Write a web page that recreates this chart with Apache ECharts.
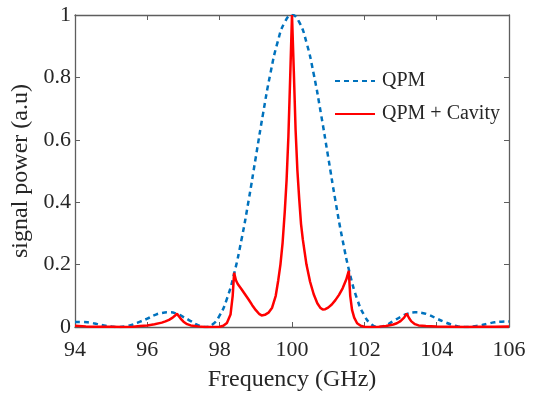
<!DOCTYPE html>
<html>
<head>
<meta charset="utf-8">
<script src="https://cdn.jsdelivr.net/npm/echarts@6/dist/echarts.min.js"></script>
<style>
  html, body { margin: 0; padding: 0; background: #fff; }
  #chart { width: 539px; height: 397px; }
</style>
</head>
<body>
<div id="chart"></div>
<script>
// QPM only (dashed blue), every 0.2 GHz
const qpmFreq = [
  94.0, 94.2, 94.4, 94.6, 94.8, 95.0, 95.2, 95.4, 95.6, 95.8,
  96.0, 96.2, 96.4, 96.6, 96.8, 97.0, 97.2, 97.4, 97.6, 97.8,
  98.0, 98.2, 98.4, 98.6, 98.8, 99.0, 99.2, 99.4, 99.6, 99.8,
  100.0, 100.2, 100.4, 100.6, 100.8, 101.0, 101.2, 101.4, 101.6, 101.8,
  102.0, 102.2, 102.4, 102.6, 102.8, 103.0, 103.2, 103.4, 103.6, 103.8,
  104.0, 104.2, 104.4, 104.6, 104.8, 105.0, 105.2, 105.4, 105.6, 105.8, 106.0
];
const qpmPower = [
  0.016, 0.016, 0.014, 0.010, 0.005, 0.002, 0.0, 0.002, 0.008, 0.017,
  0.027, 0.038, 0.045, 0.047, 0.043, 0.032, 0.019, 0.006, 0.0, 0.008,
  0.037, 0.090, 0.171, 0.278, 0.405, 0.545, 0.684, 0.811, 0.912, 0.977,
  1.0, 0.977, 0.912, 0.811, 0.684, 0.545, 0.405, 0.278, 0.171, 0.090,
  0.037, 0.008, 0.0, 0.006, 0.019, 0.032, 0.043, 0.047, 0.045, 0.038,
  0.027, 0.017, 0.008, 0.002, 0.0, 0.002, 0.005, 0.010, 0.015, 0.017, 0.018
];

// QPM + cavity (solid red), denser around the sharp peaks
const cavFreq = [
  94.0, 94.3, 94.6, 95.0, 95.3, 95.6, 95.8, 96.0, 96.2, 96.4,
  96.5, 96.6, 96.7, 96.76, 96.82, 96.86, 96.92, 97.0, 97.1, 97.2,
  97.4, 97.6, 97.8, 98.0, 98.1, 98.2, 98.3, 98.36, 98.4, 98.45,
  98.5, 98.6, 98.7, 98.8, 98.9, 99.0, 99.1, 99.16, 99.25, 99.35,
  99.45, 99.55, 99.62, 99.68, 99.74, 99.8, 99.85, 99.9, 99.95, 100.0,
  100.05, 100.1, 100.15, 100.2, 100.25, 100.3, 100.35, 100.4, 100.5, 100.6,
  100.7, 100.78, 100.85, 100.92, 101.0, 101.1, 101.2, 101.3, 101.4, 101.5,
  101.57, 101.61, 101.66, 101.72, 101.8, 101.9, 102.0, 102.2, 102.4, 102.6,
  102.8, 102.9, 103.0, 103.1, 103.17, 103.24, 103.3, 103.4, 103.5, 103.7,
  104.0, 104.4, 104.8, 105.2, 105.6, 106.0
];
const cavPower = [
  0.004, 0.002, 0.001, 0.0005, 0.0, 0.001, 0.003, 0.005, 0.009, 0.014,
  0.018, 0.023, 0.030, 0.036, 0.043, 0.036, 0.027, 0.017, 0.009, 0.005,
  0.002, 0.0, 0.0, 0.001, 0.004, 0.013, 0.040, 0.100, 0.174, 0.150,
  0.138, 0.122, 0.105, 0.088, 0.070, 0.054, 0.041, 0.037, 0.039, 0.046,
  0.062, 0.100, 0.150, 0.200, 0.270, 0.370, 0.470, 0.610, 0.800, 1.0,
  0.820, 0.630, 0.500, 0.410, 0.330, 0.280, 0.240, 0.200, 0.145, 0.105,
  0.076, 0.062, 0.056, 0.057, 0.062, 0.072, 0.086, 0.103, 0.124, 0.152,
  0.180, 0.100, 0.055, 0.030, 0.012, 0.004, 0.001, 0.0, 0.001, 0.003,
  0.008, 0.012, 0.019, 0.030, 0.043, 0.028, 0.018, 0.009, 0.005, 0.003,
  0.002, 0.001, 0.0, 0.0005, 0.001, 0.002
];

const xTicks = {min: 94, max: 106, step: 2};
const yTicks = {min: 0, max: 1, step: 0.2};

const FONT = 'Liberation Serif';
const TXT = '#262626';
const AXC = '#5e5e5e';

const chart = echarts.init(document.getElementById('chart'), null, {renderer: 'canvas'});

const frameAxis = (extra) => Object.assign({
  type: 'value',
  axisLine: {show: true, onZero: false, lineStyle: {color: AXC, width: 1.3}},
  axisTick: {show: true, inside: true, length: 5, lineStyle: {color: AXC, width: 1}},
  splitLine: {show: false},
}, extra);

chart.setOption({
  animation: false,
  backgroundColor: '#fff',
  grid: {left: 75, right: 30, top: 15, bottom: 66},
  legend: {
    orient: 'vertical',
    left: 334,
    top: 71,
    padding: 0,
    itemWidth: 40,
    itemHeight: 14,
    itemGap: 13,
    itemStyle: {opacity: 0},
    data: ['QPM', 'QPM + Cavity'],
    textStyle: {fontFamily: FONT, fontSize: 20, color: TXT, padding: [0, 0, 0, 2]},
  },
  xAxis: [
    frameAxis({
      position: 'bottom',
      min: xTicks.min, max: xTicks.max, interval: xTicks.step,
      name: 'Frequency (GHz)',
      nameLocation: 'middle',
      nameGap: 41,
      nameTextStyle: {fontFamily: FONT, fontSize: 24, color: TXT},
      axisLabel: {margin: 12, fontFamily: FONT, fontSize: 22, color: TXT},
    }),
    frameAxis({
      position: 'top',
      min: xTicks.min, max: xTicks.max, interval: xTicks.step,
      axisLabel: {show: false},
    }),
  ],
  yAxis: [
    frameAxis({
      position: 'left',
      min: yTicks.min, max: yTicks.max, interval: yTicks.step,
      name: 'signal power (a.u)',
      nameLocation: 'middle',
      nameGap: 35,
      nameTextStyle: {fontFamily: FONT, fontSize: 24, color: TXT},
      axisLabel: {margin: 4, fontFamily: FONT, fontSize: 22, color: TXT},
    }),
    frameAxis({
      position: 'right',
      min: yTicks.min, max: yTicks.max, interval: yTicks.step,
      axisLabel: {show: false},
    }),
  ],
  series: [
    {
      name: 'QPM',
      type: 'line',
      xAxisIndex: 0,
      yAxisIndex: 0,
      data: qpmFreq.map((f, i) => [f, qpmPower[i]]),
      symbol: 'none',
      smooth: true,
      lineStyle: {color: '#0072bd', width: 2.5, type: [5, 4]},
      itemStyle: {color: '#0072bd'},
      z: 2,
    },
    {
      name: 'QPM + Cavity',
      type: 'line',
      xAxisIndex: 0,
      yAxisIndex: 0,
      data: cavFreq.map((f, i) => [f, cavPower[i]]),
      symbol: 'none',
      lineStyle: {color: '#ff0000', width: 2.5},
      itemStyle: {color: '#ff0000'},
      z: 3,
    },
  ],
});
</script>
</body>
</html>
